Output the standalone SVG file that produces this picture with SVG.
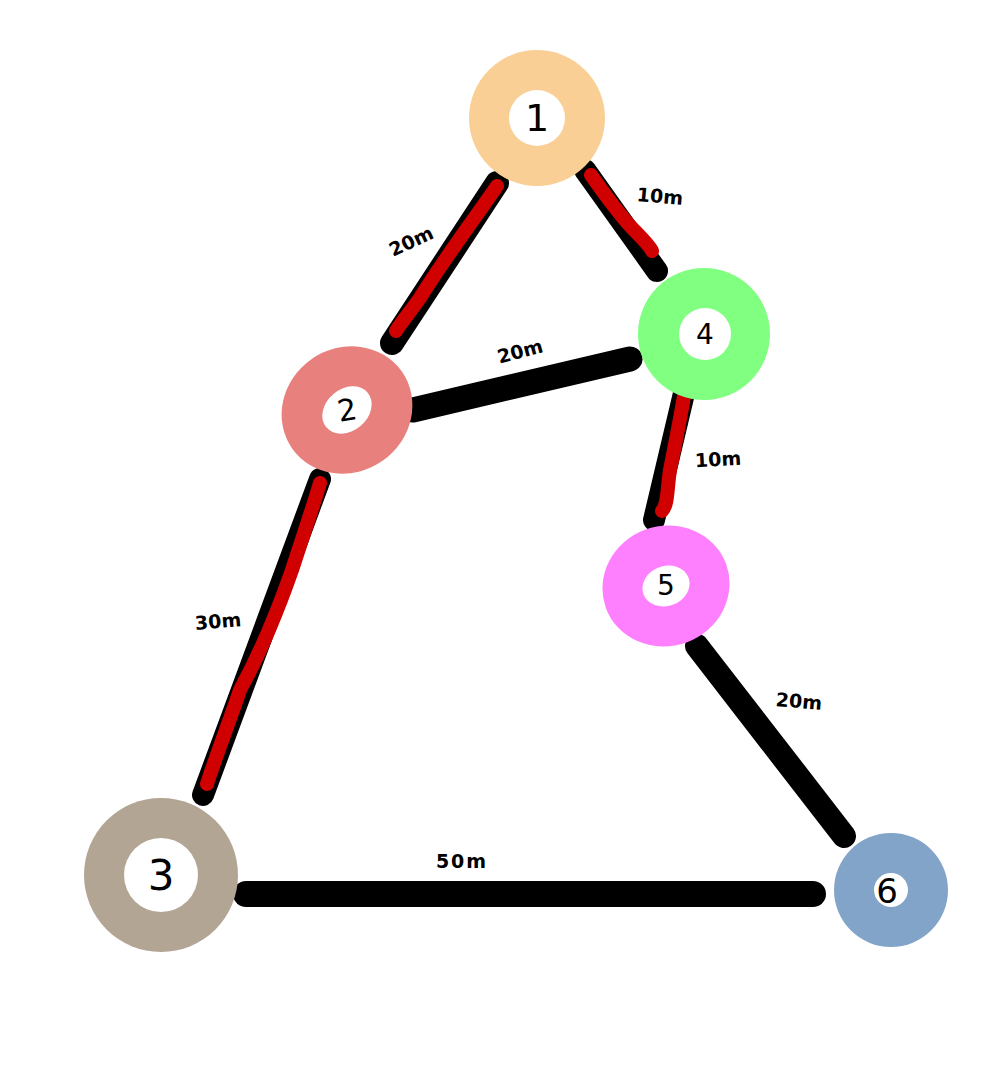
<svg xmlns="http://www.w3.org/2000/svg" width="1000" height="1071" viewBox="0 0 1000 1071">
<style>
.edge{fill:none;stroke:#000;stroke-linecap:round;stroke-linejoin:round}
.hl{fill:none;stroke:#D00000;stroke-linecap:round;stroke-linejoin:round;stroke-width:14}
.lbl{font-family:"DejaVu Sans",sans-serif;font-weight:bold;font-size:19px;fill:#000;text-anchor:middle;dominant-baseline:central}
.num{font-family:"DejaVu Sans",sans-serif;fill:#000;text-anchor:middle;dominant-baseline:central}
.hole{fill:#fff}
</style>
<rect width="1000" height="1071" fill="#fff"/>
<g id="connectors">
  <line class="edge" x1="497" y1="183" x2="392" y2="343" stroke-width="24"/>
  <path class="hl" d="M497,186 C470,225 440,265 420,298 C410,312 400,324 396,331"/>
  <line class="edge" x1="585" y1="170" x2="657" y2="271" stroke-width="22"/>
  <path class="hl" d="M591,175 C605,195 620,215 632,228 C642,238 650,246 652,251"/>
  <line class="edge" x1="413" y1="410" x2="630" y2="359" stroke-width="25"/>
  <line class="edge" x1="685" y1="389" x2="654" y2="520" stroke-width="22"/>
  <path class="hl" d="M684,396 C680,420 674,450 670,470 C667,490 668,505 662,511"/>
  <line class="edge" x1="320" y1="479" x2="203" y2="795" stroke-width="22"/>
  <path class="hl" stroke-width="16" d="M320,483 C312,510 300,545 292,570 C278,610 262,650 240,690 C230,720 218,750 207,784"/>
  <line class="edge" x1="697" y1="646" x2="844" y2="836" stroke-width="24"/>
  <line class="edge" x1="246" y1="894" x2="813" y2="894" stroke-width="26"/>
  <text class="lbl" x="411" y="241" transform="rotate(-25 411 241)">20m</text>
  <text class="lbl" x="660" y="196" transform="rotate(5 660 196)">10m</text>
  <text class="lbl" x="520" y="351" transform="rotate(-15 520 351)">20m</text>
  <text class="lbl" x="718" y="459" transform="rotate(-3 718 459)">10m</text>
  <text class="lbl" x="218" y="621" transform="rotate(-5 218 621)">30m</text>
  <text class="lbl" x="462" y="861" letter-spacing="2">50m</text>
  <text class="lbl" x="799" y="701" transform="rotate(5 799 701)">20m</text>
</g>
<g id="node1">
  <circle cx="537" cy="118" r="68" fill="#F9CF95"/>
  <circle class="hole" cx="537" cy="118" r="28"/>
  <text class="num" x="537" y="118" font-size="38">1</text>
</g>
<g id="node2">
  <ellipse cx="347" cy="410" rx="67" ry="62" transform="rotate(-35 347 410)" fill="#E8807E"/>
  <ellipse class="hole" cx="347" cy="410" rx="27" ry="21" transform="rotate(-40 347 410)"/>
  <text class="num" x="347" y="410" font-size="30" transform="rotate(-10 347 410)">2</text>
</g>
<g id="node4">
  <circle cx="704" cy="334" r="66" fill="#80FF80"/>
  <circle class="hole" cx="705" cy="334" r="26"/>
  <text class="num" x="705" y="334" font-size="28">4</text>
</g>
<g id="node5">
  <ellipse cx="666" cy="586" rx="64" ry="60" transform="rotate(-20 666 586)" fill="#FF80FF"/>
  <ellipse class="hole" cx="666" cy="586" rx="24" ry="20" transform="rotate(-20 666 586)"/>
  <text class="num" x="666" y="585" font-size="28">5</text>
</g>
<g id="node3">
  <circle cx="161" cy="875" r="77" fill="#B3A594"/>
  <circle class="hole" cx="161" cy="875" r="37"/>
  <text class="num" x="161" y="875" font-size="42">3</text>
</g>
<g id="node6">
  <circle cx="891" cy="890" r="57" fill="#82A4C8"/>
  <circle class="hole" cx="891" cy="890" r="17"/>
  <text class="num" x="887" y="891" font-size="34">6</text>
</g>
</svg>
